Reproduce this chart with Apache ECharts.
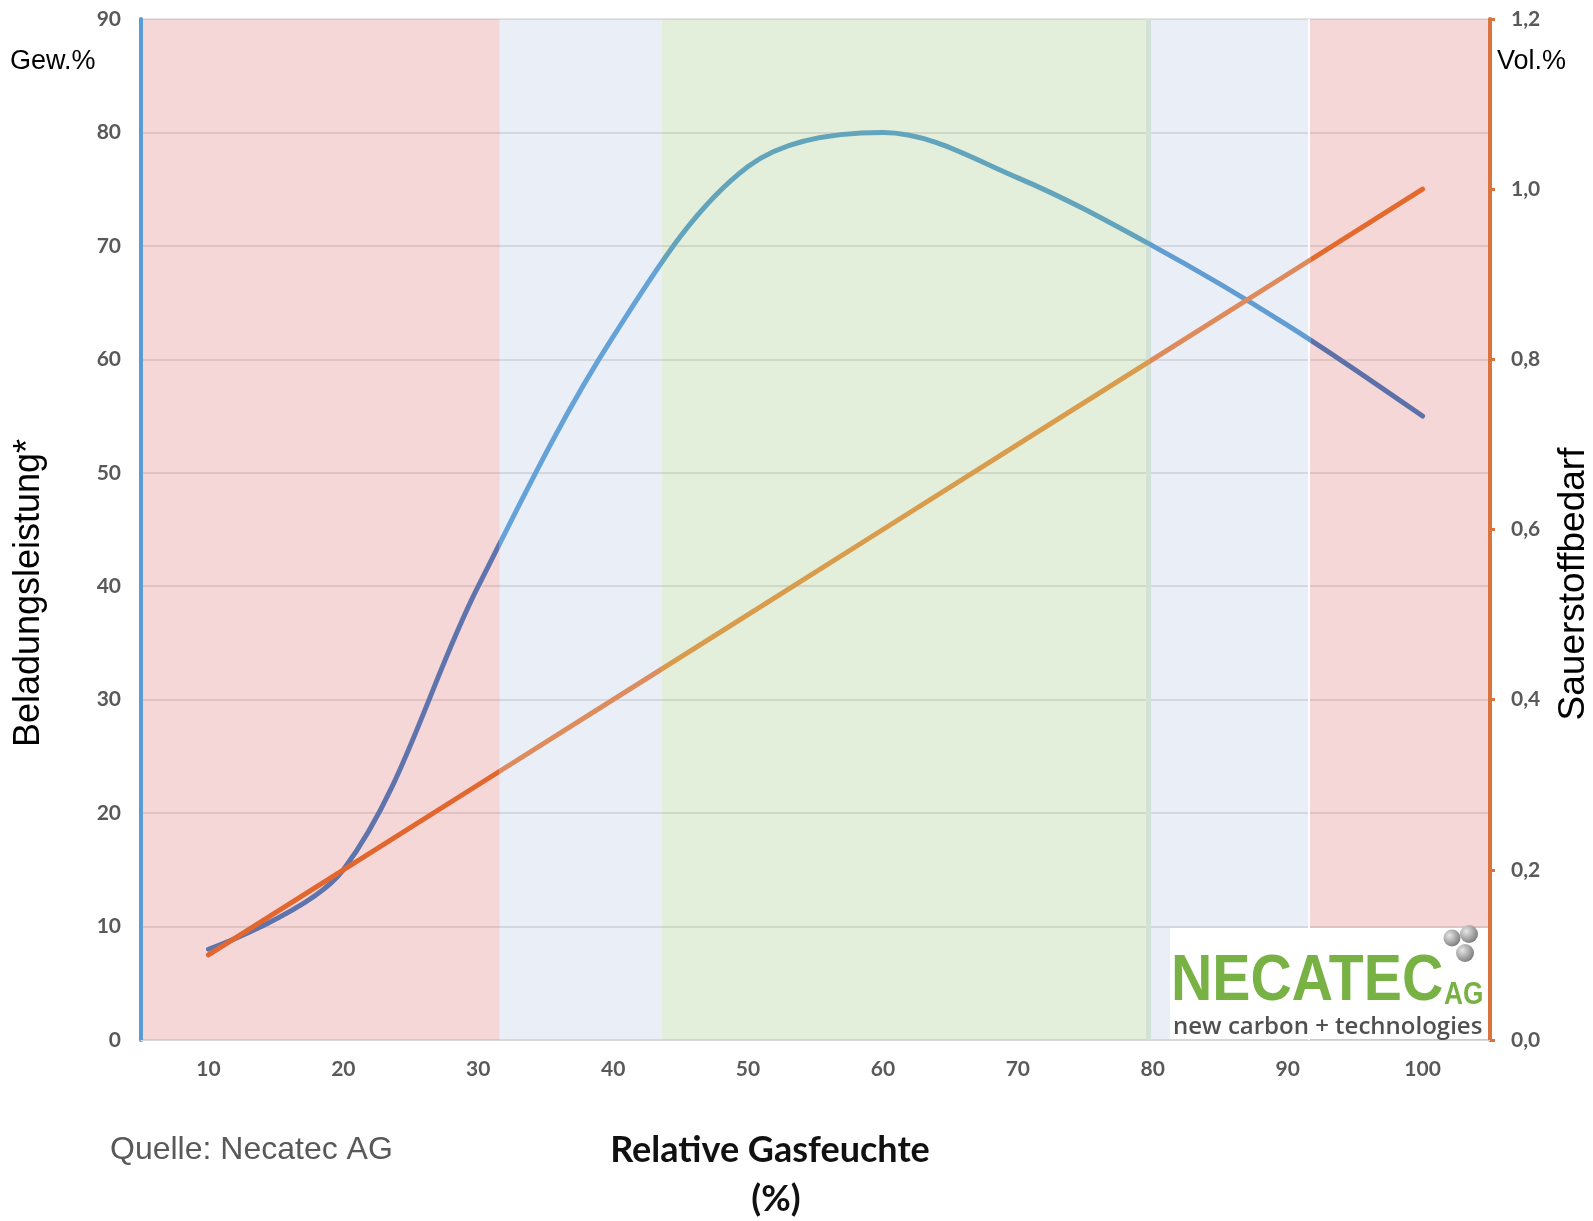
<!DOCTYPE html>
<html>
<head>
<meta charset="utf-8">
<script src="https://cdn.jsdelivr.net/npm/echarts@6/dist/echarts.min.js"></script>
<style>
  html, body { margin: 0; padding: 0; background: #ffffff; }
  #chart { width: 1593px; height: 1221px; }
</style>
</head>
<body>
<div id="chart"></div>
<script>
// Relative gas humidity (%) on the x axis
const humidity = ['10', '20', '30', '40', '50', '60', '70', '80', '90', '100'];
// Loading capacity in Gew.% (left axis)
const beladung = [8, 15, 40, 62, 77, 80, 76, 70, 63, 55];
// Oxygen demand in Vol.% (right axis)
const sauerstoff = [0.1, 0.2, 0.3, 0.4, 0.5, 0.6, 0.7, 0.8, 0.9, 1.0];

// Humidity zones drawn behind the curves (edges in % humidity)
const zoneEdges = [5, 31.6, 43.6, 79.7, 91.6, 105];
const zoneColors = ['#f5d7d7', '#e9eef7', '#e3efda', '#e9eef7', '#f5d7d7'];
// Curve tint inside each zone
const beladungTints = ['#5f74ad', '#65a2d8', '#63a4bd', '#619dd3', '#5c71a9'];
const sauerstoffTints = ['#e2672e', '#dd8c5e', '#d89c4c', '#de8a5a', '#e4692c'];

const chart = echarts.init(document.getElementById('chart'));

const gridLeft = 141, gridRight = 103, gridTop = 19, gridBottom = 181;

// Horizontal gradient with hard stops at the zone edges; the curve spans
// from the first category (10 %) to the last (100 %).
function zoneGradient(tints) {
  const first = Number(humidity[0]);
  const last = Number(humidity[humidity.length - 1]);
  const pos = v => Math.min(1, Math.max(0, (v - first) / (last - first)));
  const stops = [];
  for (let i = 0; i < tints.length; i++) {
    stops.push({ offset: pos(zoneEdges[i]), color: tints[i] });
    stops.push({ offset: pos(zoneEdges[i + 1]), color: tints[i] });
  }
  return new echarts.graphic.LinearGradient(0, 0, 1, 0, stops);
}

const tickFont = { color: '#595959', fontFamily: 'Lato', fontWeight: 'bold', fontSize: 21 };
const sphereFill = () => new echarts.graphic.RadialGradient(0.35, 0.35, 0.75, [
  { offset: 0, color: '#e6e6e6' }, { offset: 1, color: '#747474' }
]);

const option = {
  animation: false,
  backgroundColor: '#ffffff',
  grid: { left: gridLeft, right: gridRight, top: gridTop, bottom: gridBottom, containLabel: false },
  xAxis: [
    {
      type: 'category',
      data: humidity,
      boundaryGap: true,
      z: 3,
      axisLine: { show: true, lineStyle: { color: '#d9d9d9', width: 1 } },
      axisTick: { show: false },
      axisLabel: Object.assign({ margin: 19 }, tickFont),
      splitLine: { show: false }
    },
    { type: 'value', min: 5, max: 105, show: false }
  ],
  yAxis: [
    {
      type: 'value', min: 0, max: 90, interval: 10, position: 'left', z: 3,
      axisLine: { show: true, lineStyle: { color: '#5b9bd5', width: 4 } },
      axisTick: { show: false },
      axisLabel: Object.assign({ margin: 20 }, tickFont),
      splitLine: { show: true, lineStyle: { color: 'rgba(120,100,100,0.22)', width: 1.5 } }
    },
    {
      type: 'value', min: 0, max: 1.2, interval: 0.2, position: 'right', z: 3,
      axisLine: { show: true, lineStyle: { color: '#d9743f', width: 4 } },
      axisTick: { show: true, inside: false, length: 5, lineStyle: { color: '#d9743f', width: 3 } },
      axisLabel: Object.assign({ margin: 21, formatter: v => v.toFixed(1).replace('.', ',') }, tickFont),
      splitLine: { show: false }
    }
  ],
  series: [
    {
      name: 'zones',
      type: 'line',
      xAxisIndex: 1,
      yAxisIndex: 0,
      data: [],
      z: 1,
      silent: true,
      markArea: {
        silent: true,
        data: zoneColors.map((c, i) => [
          { xAxis: zoneEdges[i], itemStyle: { color: c } },
          { xAxis: zoneEdges[i + 1] }
        ])
      },
      markLine: {
        silent: true,
        symbol: 'none',
        label: { show: false },
        data: [
          { xAxis: zoneEdges[3], lineStyle: { color: '#d3e2d8', width: 5, type: 'solid' } },
          { xAxis: zoneEdges[4], lineStyle: { color: '#ffffff', width: 2, type: 'solid' } }
        ]
      }
    },
    {
      name: 'Beladungsleistung',
      type: 'line',
      xAxisIndex: 0,
      yAxisIndex: 0,
      data: beladung,
      smooth: 0.34,
      symbol: 'none',
      z: 5,
      lineStyle: { width: 5, cap: 'round', color: zoneGradient(beladungTints) }
    },
    {
      name: 'Sauerstoffbedarf',
      type: 'line',
      xAxisIndex: 0,
      yAxisIndex: 1,
      data: sauerstoff,
      smooth: false,
      symbol: 'none',
      z: 5,
      lineStyle: { width: 5, cap: 'round', color: zoneGradient(sauerstoffTints) }
    }
  ],
  graphic: [
    { type: 'text', x: 10, y: 62, style: { text: 'Gew.%', fontFamily: 'Liberation Sans', fontSize: 27, fill: '#000', textVerticalAlign: 'middle' } },
    { type: 'text', x: 1497, y: 62, style: { text: 'Vol.%', fontFamily: 'Liberation Sans', fontSize: 27, fill: '#000', textVerticalAlign: 'middle' } },
    { type: 'text', x: 29, y: 593, rotation: Math.PI / 2, style: { text: 'Beladungsleistung*', fontFamily: 'Liberation Sans', fontSize: 36, fill: '#000', textAlign: 'center', textVerticalAlign: 'middle' } },
    { type: 'text', x: 1574, y: 584, rotation: Math.PI / 2, style: { text: 'Sauerstoffbedarf', fontFamily: 'Liberation Sans', fontSize: 37, fill: '#000', textAlign: 'center', textVerticalAlign: 'middle' } },
    { type: 'text', x: 110, y: 1150, style: { text: 'Quelle: Necatec AG', fontFamily: 'Liberation Sans', fontSize: 32, fill: '#595959', textVerticalAlign: 'middle' } },
    { type: 'text', x: 770, y: 1150, style: { text: 'Relative Gasfeuchte', fontFamily: 'Lato', fontWeight: 'bold', fontSize: 36, fill: '#111', textAlign: 'center', textVerticalAlign: 'middle' } },
    { type: 'text', x: 776, y: 1199, style: { text: '(%)', fontFamily: 'Lato', fontWeight: 'bold', fontSize: 36, fill: '#111', textAlign: 'center', textVerticalAlign: 'middle' } },

    // company logo in the lower right corner of the plot
    { type: 'rect', z: 20, shape: { x: 1170, y: 928, width: 318, height: 111 }, style: { fill: '#ffffff' } },
    { type: 'text', z: 21, x: 1171, y: 982, scaleX: 0.88, style: { text: 'NECATEC', fontFamily: 'Liberation Sans', fontWeight: 'bold', fontSize: 65, fill: '#78b244', textVerticalAlign: 'middle' } },
    { type: 'text', z: 21, x: 1444, y: 995, scaleX: 0.82, style: { text: 'AG', fontFamily: 'Liberation Sans', fontWeight: 'bold', fontSize: 32, fill: '#78b244', textVerticalAlign: 'middle' } },
    { type: 'text', z: 21, x: 1173, y: 1027, style: { text: 'new carbon + technologies', fontFamily: 'Open Sans', fontWeight: 600, fontSize: 24, fill: '#505050', textVerticalAlign: 'middle' } },
    { type: 'circle', z: 21, shape: { cx: 1452, cy: 938, r: 8.5 }, style: { fill: sphereFill() } },
    { type: 'circle', z: 21, shape: { cx: 1469, cy: 934, r: 9 }, style: { fill: sphereFill() } },
    { type: 'circle', z: 21, shape: { cx: 1465, cy: 953, r: 9 }, style: { fill: sphereFill() } }
  ]
};

chart.setOption(option);
</script>
</body>
</html>
